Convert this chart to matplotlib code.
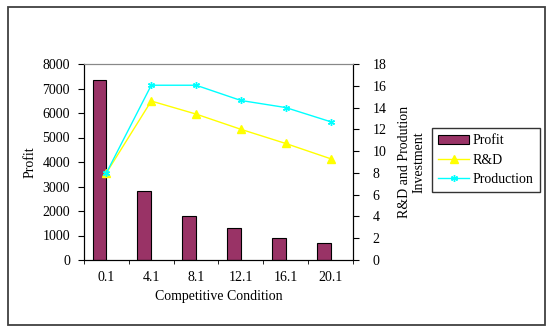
import matplotlib.pyplot as plt
from matplotlib.patches import Rectangle
import numpy as np

conditions = ['0.1', '4.1', '8.1', '12.1', '16.1', '20.1']
profit = [7360, 2830, 1800, 1300, 910, 680]
rnd = [8.0, 14.6, 13.4, 12.0, 10.7, 9.3]
production = [8.0, 16.05, 16.05, 14.65, 14.0, 12.7]

plt.rcParams['font.family'] = ['Liberation Serif', 'DejaVu Serif']
plt.rcParams['font.size'] = 10

fig = plt.figure(figsize=(5.5, 3.34), dpi=100)
ax = fig.add_axes([84 / 550, 74 / 334, 269 / 550, 196 / 334])
ax2 = ax.twinx()

x = np.arange(len(conditions))
bars = ax.bar(x, profit, width=-0.31, align='edge', color='#993366',
              edgecolor='black', linewidth=0.8, label='Profit', zorder=2)
l1, = ax2.plot(x, rnd, color='#FFFF00', marker='^', markersize=6, lw=1,
               label='R&D')
l2, = ax2.plot(x, production, color='#00FFFF', marker=(6, 2, 0),
               markersize=5, lw=1, label='Production')

ax.set_xlim(-0.5, len(conditions) - 0.5)
ax.set_ylim(0, 8000)
ax.set_yticks(range(0, 8001, 1000))
ax2.set_ylim(0, 18)
ax2.set_yticks(range(0, 19, 2))

ax.set_xticks(x)
ax.set_xticklabels(conditions)
ax.set_xticks(np.arange(-0.5, len(conditions), 1), minor=True)
ax.tick_params(axis='x', which='major', length=0, pad=8)
ax.tick_params(axis='x', which='minor', length=3, direction='out')
ax.tick_params(axis='y', length=4, direction='out', pad=6)
ax2.tick_params(axis='y', length=4, direction='out', pad=10)

ax.set_xlabel('Competitive Condition', labelpad=4)
ax.set_ylabel('Profit', labelpad=4)
ax2.set_ylabel('R&D and Prodution\nInvestment', labelpad=8)

for a in (ax, ax2):
    a.spines['top'].set_color('#888888')
    a.spines['left'].set_color('black')
    a.spines['right'].set_color('black')
    a.spines['bottom'].set_color('black')

fig.legend(handles=[bars, l1, l2], loc='lower left',
           bbox_to_anchor=(432 / 550, 142 / 334), frameon=True,
           fancybox=False, edgecolor='black', borderaxespad=0,
           handlelength=2.2, fontsize=10, labelspacing=0.45,
           borderpad=0.45, handletextpad=0.3)

fig.patches.append(Rectangle((8 / 550, 9 / 334), 537 / 550, 318 / 334,
                             transform=fig.transFigure, fill=False,
                             edgecolor='#404040', linewidth=1.3))

plt.savefig('out.png', dpi=100)
